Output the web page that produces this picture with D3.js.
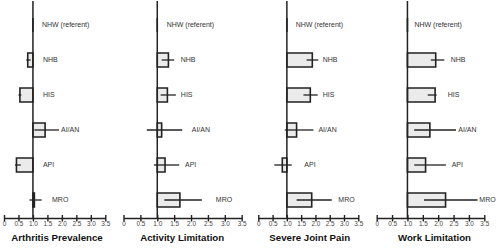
<!DOCTYPE html>
<html>
<head>
<meta charset="utf-8">
<script src="https://cdn.jsdelivr.net/npm/d3@7"></script>
<style>
  html, body { margin: 0; padding: 0; background: #fff; }
  svg { display: block; font-family: "Liberation Sans", Arial, sans-serif; }
</style>
</head>
<body>
<svg id="chart" width="500" height="249"></svg>
<script>
// ---- data ----
const categories = ["NHW (referent)", "NHB", "HIS", "AI/AN", "API", "MRO"];
const titles = ["Arthritis Prevalence", "Activity Limitation", "Severe Joint Pain", "Work Limitation"];
const tickValues = [0, 0.5, 1.0, 1.5, 2.0, 2.5, 3.0, 3.5];

const arthritisEst = [1.0, 0.82, 0.55, 1.42, 0.43, 1.05];
const arthritisLo  = [1.0, 0.77, 0.50, 1.05, 0.38, 0.88];
const arthritisHi  = [1.0, 0.92, 0.60, 1.90, 0.58, 1.30];

const activityEst = [1.0, 1.33, 1.30, 1.13, 1.23, 1.67];
const activityLo  = [1.0, 1.13, 1.10, 0.69, 0.90, 1.21];
const activityHi  = [1.0, 1.50, 1.55, 1.74, 1.65, 2.32];

const jointEst = [1.0, 1.89, 1.82, 1.34, 0.84, 1.87];
const jointLo  = [1.0, 1.69, 1.58, 0.93, 0.56, 1.34];
const jointHi  = [1.0, 2.10, 2.08, 1.93, 1.17, 2.57];

const workEst = [1.0, 1.92, 1.90, 1.73, 1.59, 2.24];
const workLo  = [1.0, 1.76, 1.66, 1.22, 1.22, 1.54];
const workHi  = [1.0, 2.20, 1.95, 2.58, 2.25, 3.28];

const seriesEst = [arthritisEst, activityEst, jointEst, workEst];
const seriesLo  = [arthritisLo, activityLo, jointLo, workLo];
const seriesHi  = [arthritisHi, activityHi, jointHi, workHi];

// ---- layout (pixels) ----
const panelLayout = [
  { x0: 4,     x1: 105.3, titleX: 57,    gaps: [9, 10, 10, 2, 10, 10.4] },
  { x0: 123.5, x1: 241.7, titleX: 182.2, gaps: [9.4, 6.6, 5, 9.5, 5.8, 14] },
  { x0: 258.3, x1: 358.3, titleX: 309.7, gaps: [8.8, 4.4, 4.9, 5, 12.6, 6.6] },
  { x0: 376.7, x1: 484.3, titleX: 434.5, gaps: [7, 6.4, 11, 2.3, 5.8, 1.8] }
];
const axisY = 218;
const barH = 14;
const ink = "#222";

const svg = d3.select("#chart");
const y = d3.scalePoint().domain(categories).range([25, 200]);

titles.forEach((title, p) => {
  const L = panelLayout[p];
  const x = d3.scaleLinear().domain([0, 3.5]).range([L.x0, L.x1]);
  const g = svg.append("g");
  const rows = categories.map((c, i) => ({
    cat: c, est: seriesEst[p][i], lo: seriesLo[p][i], hi: seriesHi[p][i], gap: L.gaps[i]
  }));

  // bars (from referent 1.0 to estimate)
  g.selectAll("path.bar").data(rows).join("path")
    .attr("class", "bar")
    .attr("d", d => {
      const xa = x(Math.min(1, d.est)), xb = x(Math.max(1, d.est));
      const yt = y(d.cat) - barH / 2, yb = y(d.cat) + barH / 2;
      return `M${xa},${yt}H${xb}V${yb}H${xa}Z`;
    })
    .attr("fill", "#ebebeb")
    .attr("stroke", ink)
    .attr("stroke-width", 1.6);

  // reference line at 1.0
  g.append("line")
    .attr("x1", x(1)).attr("x2", x(1))
    .attr("y1", 1).attr("y2", axisY)
    .attr("stroke", ink).attr("stroke-width", 1.5);

  // confidence interval whiskers
  g.selectAll("line.ci").data(rows.filter(d => d.hi > d.lo)).join("line")
    .attr("class", "ci")
    .attr("x1", d => x(d.lo)).attr("x2", d => x(d.hi))
    .attr("y1", d => y(d.cat)).attr("y2", d => y(d.cat))
    .attr("stroke", ink).attr("stroke-width", 1.3);

  // category labels
  g.selectAll("text.lab").data(rows).join("text")
    .attr("class", "lab")
    .attr("x", d => x(Math.max(1, d.hi)) + d.gap)
    .attr("y", d => y(d.cat))
    .attr("dy", "0.35em")
    .attr("font-size", 7)
    .attr("fill", "#333")
    .text(d => d.cat);

  // axis
  const axis = d3.axisBottom(x)
    .tickValues(tickValues)
    .tickSizeInner(3)
    .tickSizeOuter(0)
    .tickPadding(0.8)
    .tickFormat(d => d === 0 ? "0" : d3.format(".1f")(d));
  const ag = g.append("g").attr("transform", `translate(0,${axisY})`).call(axis);
  ag.select(".domain").attr("stroke", ink).attr("stroke-width", 1.5);
  ag.selectAll(".tick line").attr("y1", -3).attr("y2", 3.5)
    .attr("stroke", ink).attr("stroke-width", 1.4);
  ag.selectAll(".tick text").attr("font-size", 6.4).attr("fill", "#444")
    .attr("font-family", "Liberation Sans, Arial, sans-serif");

  // title
  g.append("text")
    .attr("x", L.titleX).attr("y", 241)
    .attr("text-anchor", "middle")
    .attr("font-size", 9.7).attr("font-weight", "bold")
    .attr("fill", "#111")
    .text(title);
});
</script>
</body>
</html>
